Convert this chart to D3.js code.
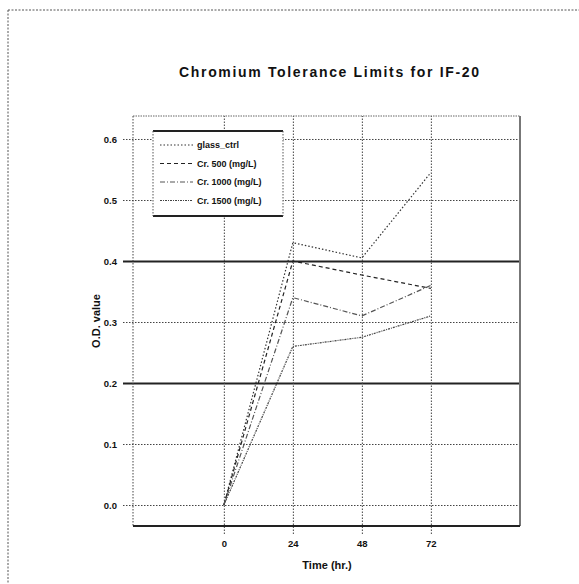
<!DOCTYPE html>
<html>
<head>
<meta charset="utf-8">
<script src="https://cdn.jsdelivr.net/npm/d3@7"></script>
<style>
  body { margin: 0; background: #fff; }
  svg { font-family: "Liberation Sans", Arial, sans-serif; }
</style>
</head>
<body>
<svg id="chart" width="579" height="584"></svg>
<script>
// data
var times = [0, 24, 48, 72];
var seriesNames = ['glass_ctrl', 'Cr. 500 (mg/L)', 'Cr. 1000 (mg/L)', 'Cr. 1500 (mg/L)'];
var ctrlValues = [0.0, 0.43, 0.405, 0.545];
var cr500Values = [0.0, 0.40, 0.377, 0.355];
var cr1000Values = [0.0, 0.34, 0.31, 0.36];
var cr1500Values = [0.0, 0.26, 0.275, 0.31];
var yTicks = [0.0, 0.1, 0.2, 0.3, 0.4, 0.5, 0.6];
var yTickLabels = ['0.0', '0.1', '0.2', '0.3', '0.4', '0.5', '0.6'];
var xTickLabels = ['0', '24', '48', '72'];

var allSeries = [ctrlValues, cr500Values, cr1000Values, cr1500Values];
var dashes = ['1.5,2', '4,3', '5,2,1,2', '2,1,1,1'];
var strokes = ['#333', '#222', '#555', '#444'];

var margin = { top: 116, right: 59, bottom: 58, left: 133 };
var width = 579 - margin.left - margin.right;
var height = 584 - margin.top - margin.bottom;

var svg = d3.select('#chart');

// outer frame (dotted, top and left only)
svg.append('line').attr('x1', 8).attr('y1', 10).attr('x2', 579).attr('y2', 10)
  .attr('stroke', '#555').attr('stroke-dasharray', '2,1.5');
svg.append('line').attr('x1', 8).attr('y1', 10).attr('x2', 8).attr('y2', 584)
  .attr('stroke', '#555').attr('stroke-dasharray', '2,1.5');

var g = svg.append('g')
  .attr('transform', 'translate(' + margin.left + ',' + margin.top + ')');

var x = d3.scaleLinear().domain([-31.6, 103]).range([0, width]);
var y = d3.scaleLinear().domain([-0.0344, 0.6377]).range([height, 0]);

// y axis + horizontal grid
var yAxis = g.append('g')
  .attr('class', 'axis axis--y')
  .call(d3.axisLeft(y).tickValues(yTicks)
    .tickFormat(function (d, i) { return yTickLabels[i]; })
    .tickSizeInner(-width).tickSizeOuter(0).tickPadding(16));
yAxis.select('.domain').remove();
yAxis.selectAll('.tick line')
  .attr('x1', -10)
  .attr('stroke', function (d) { return (d === 0.2 || d === 0.4) ? '#222' : '#444'; })
  .attr('stroke-width', function (d) { return (d === 0.2 || d === 0.4) ? 2 : 1; })
  .attr('stroke-dasharray', function (d) { return (d === 0.2 || d === 0.4) ? null : '1.5,1.5'; });
yAxis.selectAll('.tick text')
  .attr('font-size', 9.5).attr('font-weight', 'bold').attr('fill', '#111');

// x axis + vertical grid
var xAxis = g.append('g')
  .attr('class', 'axis axis--x')
  .attr('transform', 'translate(0,' + height + ')')
  .call(d3.axisBottom(x).tickValues(times)
    .tickFormat(function (d, i) { return xTickLabels[i]; })
    .tickSizeInner(-height).tickSizeOuter(0).tickPadding(14));
xAxis.select('.domain').remove();
xAxis.selectAll('.tick line')
  .attr('y1', 8)
  .attr('stroke', '#444')
  .attr('stroke-dasharray', '1.5,1.5');
xAxis.selectAll('.tick text')
  .attr('font-size', 9.5).attr('font-weight', 'bold').attr('fill', '#111');

// spines
g.append('line').attr('x1', 0).attr('y1', 0).attr('x2', 0).attr('y2', height)
  .attr('stroke', '#444').attr('stroke-dasharray', '1.5,1.5');
g.append('line').attr('x1', 0).attr('y1', 0).attr('x2', width).attr('y2', 0)
  .attr('stroke', '#666').attr('stroke-dasharray', '1.5,1');
g.append('line').attr('x1', width).attr('y1', 0).attr('x2', width).attr('y2', height)
  .attr('stroke', '#777').attr('stroke-width', 2);
g.append('line').attr('x1', 0).attr('y1', height).attr('x2', width).attr('y2', height)
  .attr('stroke', '#222').attr('stroke-width', 2);

// series lines
var line = d3.line()
  .x(function (d, i) { return x(times[i]); })
  .y(function (d) { return y(d); });
allSeries.forEach(function (vals, i) {
  g.append('path')
    .datum(vals)
    .attr('fill', 'none')
    .attr('stroke', strokes[i])
    .attr('stroke-width', 1.2)
    .attr('stroke-dasharray', dashes[i])
    .attr('d', line);
});

// legend
var legend = g.append('g').attr('transform', 'translate(20,15)');
var lw = 130, lh = 85;
legend.append('rect').attr('width', lw).attr('height', lh).attr('fill', '#fff');
legend.append('line').attr('x1', 0).attr('x2', lw).attr('y1', 0).attr('y2', 0)
  .attr('stroke', '#222').attr('stroke-width', 2);
legend.append('line').attr('x1', 0).attr('x2', lw).attr('y1', lh).attr('y2', lh)
  .attr('stroke', '#222').attr('stroke-width', 2);
legend.append('line').attr('x1', 0).attr('x2', 0).attr('y1', 0).attr('y2', lh)
  .attr('stroke', '#555').attr('stroke-dasharray', '1.5,1.5');
legend.append('line').attr('x1', lw).attr('x2', lw).attr('y1', 0).attr('y2', lh)
  .attr('stroke', '#555').attr('stroke-dasharray', '1.5,1.5');
seriesNames.forEach(function (name, i) {
  var ly = 14 + i * 18.5;
  legend.append('line')
    .attr('x1', 7).attr('x2', 40).attr('y1', ly).attr('y2', ly)
    .attr('stroke', strokes[i]).attr('stroke-width', 1.2)
    .attr('stroke-dasharray', dashes[i]);
  legend.append('text')
    .attr('x', 44).attr('y', ly + 3)
    .attr('font-size', 9).attr('font-weight', 'bold').attr('fill', '#111')
    .text(name);
});

// title and axis titles
svg.append('text')
  .attr('x', 329).attr('y', 77)
  .attr('text-anchor', 'middle')
  .attr('font-size', 14).attr('font-weight', 'bold').attr('fill', '#111')
  .attr('textLength', 300).attr('lengthAdjust', 'spacing')
  .text('Chromium Tolerance Limits for IF-20');
svg.append('text')
  .attr('x', 327).attr('y', 569)
  .attr('text-anchor', 'middle')
  .attr('font-size', 11).attr('font-weight', 'bold').attr('fill', '#111')
  .text('Time (hr.)');
svg.append('text')
  .attr('transform', 'translate(100,321) rotate(-90)')
  .attr('text-anchor', 'middle')
  .attr('font-size', 11).attr('font-weight', 'bold').attr('fill', '#111')
  .text('O.D. value');
</script>
</body>
</html>
